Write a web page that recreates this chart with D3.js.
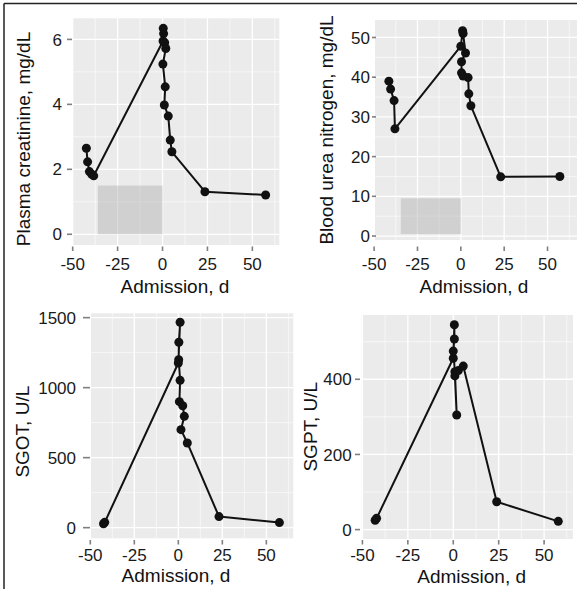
<!DOCTYPE html>
<html>
<head>
<meta charset="utf-8">
<script src="https://cdn.jsdelivr.net/npm/d3@7/dist/d3.min.js"></script>
<style>
  html, body { margin: 0; padding: 0; background: #fff; }
  svg { display: block; font-family: "Liberation Sans", Arial, Helvetica, sans-serif; }
</style>
</head>
<body>
<div id="chart"></div>
<script>
// data (days relative to admission)
const xTicks = [-50, -25, 0, 25, 50],
  xMinor = [-37.5, -12.5, 12.5, 37.5, 62.5],
  xTitle = 'Admission, d';

const creatDays = [-42.4, -41.7, -40.7, -39.4, -38.3, 0.3, 0.4, 0.6, 1.2, 1.8, 0.2, 1.5, 1.0, 3.2, 4.3, 5.2, 23.6, 57.4],
  creatValues = [2.65, 2.23, 1.93, 1.85, 1.8, 5.95, 6.34, 6.18, 5.9, 5.72, 5.24, 4.54, 3.98, 3.64, 2.9, 2.54, 1.31, 1.21],
  creatTicks = [0, 2, 4, 6],
  creatMinor = [1, 3, 5],
  creatNormal = [-36, 0, 0, 1.5];

const bunDays = [-41.5, -40.5, -38.5, -38, 0, 1.0, 1.3, 2.7, 0.4, 0.4, 1.3, 4.2, 4.6, 5.8, 23, 57.1],
  bunValues = [39, 37, 34.1, 27, 47.8, 51.7, 51.0, 46.1, 43.9, 41.1, 40.3, 39.9, 35.8, 32.8, 14.9, 15],
  bunTicks = [0, 10, 20, 30, 40, 50],
  bunMinor = [5, 15, 25, 35, 45],
  bunNormal = [-34.6, 0, 0.5, 9.5];

const sgotDays = [-42.5, -41.8, 0, 1.0, 0.3, 0.2, 1.0, 0.6, 2.5, 3.4, 1.5, 5.1, 23.1, 57.4],
  sgotValues = [28, 38, 1176, 1467, 1324, 1200, 1052, 900, 871, 795, 700, 605, 79, 36],
  sgotTicks = [0, 500, 1000, 1500],
  sgotMinor = [250, 750, 1250];

const sgptDays = [-43, -42.2, 0, 0.6, 0.6, 0, 0.9, 1.9, 0.9, 2.8, 5.5, 23.9, 57.8],
  sgptValues = [25, 30, 456, 545, 507, 475, 420, 305, 409, 423, 435, 74, 22],
  sgptTicks = [0, 200, 400],
  sgptMinor = [100, 300, 500];

// layout of the four panels
const panels = [
  {days: creatDays, values: creatValues, yTicks: creatTicks, yMinor: creatMinor, normal: creatNormal,
    title: 'Plasma creatinine, mg/dL',
    x: [72.7, 279.3], xDom: [-50, 65], y: [245, 18.3], yDom: [-0.33, 6.65],
    tickY: 246.5, labelY: 270, titleX: 175, titleY: 293,
    yTick: [67, 72], yLabelX: 62, yTitleX: 30, yTitleY: 139},
  {days: bunDays, values: bunValues, yTicks: bunTicks, yMinor: bunMinor, normal: bunNormal,
    title: 'Blood urea nitrogen, mg/dL',
    x: [375, 577], xDom: [-49.5, 67], y: [240, 20], yDom: [-1, 54.4],
    tickY: 246.5, labelY: 270, titleX: 474, titleY: 293,
    yTick: [372, 376], yLabelX: 370, yTitleX: 333, yTitleY: 130},
  {days: sgotDays, values: sgotValues, yTicks: sgotTicks, yMinor: sgotMinor,
    title: 'SGOT, U/L',
    x: [90.3, 293.3], xDom: [-50, 65.3], y: [538.3, 313.3], yDom: [-76, 1531],
    tickY: 540, labelY: 561, titleX: 176, titleY: 582,
    yTick: [83, 90], yLabelX: 76, yTitleX: 28.6, yTitleY: 431.7},
  {days: sgptDays, values: sgptValues, yTicks: sgptTicks, yMinor: sgptMinor,
    title: 'SGPT, U/L',
    x: [361.7, 573], xDom: [-50.4, 65.9], y: [539, 315], yDom: [-25, 571],
    tickY: 540, labelY: 561, titleX: 471.7, titleY: 583,
    yTick: [355, 360], yLabelX: 351.7, yTitleX: 317, yTitleY: 426.7}
];

const width = 577, height = 589;

let svg = d3.select('#chart')
  .append('svg')
  .attr('width', width)
  .attr('height', height);

// outer frame (top and left only are visible)
svg.append('line').attr('x1', 4).attr('x2', width).attr('y1', 3.5).attr('y2', 3.5)
  .attr('stroke', '#222').attr('stroke-width', 1.5);
svg.append('line').attr('x1', 4).attr('x2', 4).attr('y1', 3.5).attr('y2', height)
  .attr('stroke', '#222').attr('stroke-width', 1.5);

panels.forEach(function (p) {
  let x = d3.scaleLinear().domain(p.xDom).range(p.x),
    y = d3.scaleLinear().domain(p.yDom).range(p.y),
    g = svg.append('g');

  // panel background
  g.append('rect')
    .attr('x', p.x[0]).attr('y', p.y[1])
    .attr('width', p.x[1] - p.x[0]).attr('height', p.y[0] - p.y[1])
    .attr('fill', '#EBEBEB');

  // minor grid
  g.selectAll('.xminor').data(xMinor.filter(d => d > p.xDom[0] && d < p.xDom[1]))
    .enter().append('line')
    .attr('x1', d => x(d)).attr('x2', d => x(d))
    .attr('y1', p.y[0]).attr('y2', p.y[1])
    .attr('stroke', '#fff').attr('stroke-width', 0.6);
  g.selectAll('.yminor').data(p.yMinor.filter(d => d > p.yDom[0] && d < p.yDom[1]))
    .enter().append('line')
    .attr('x1', p.x[0]).attr('x2', p.x[1])
    .attr('y1', d => y(d)).attr('y2', d => y(d))
    .attr('stroke', '#fff').attr('stroke-width', 0.6);

  // major grid
  g.selectAll('.xmajor').data(xTicks.filter(d => d >= p.xDom[0] && d <= p.xDom[1]))
    .enter().append('line')
    .attr('x1', d => x(d)).attr('x2', d => x(d))
    .attr('y1', p.y[0]).attr('y2', p.y[1])
    .attr('stroke', '#fff').attr('stroke-width', 1.3);
  g.selectAll('.ymajor').data(p.yTicks)
    .enter().append('line')
    .attr('x1', p.x[0]).attr('x2', p.x[1])
    .attr('y1', d => y(d)).attr('y2', d => y(d))
    .attr('stroke', '#fff').attr('stroke-width', 1.3);

  // normal range box
  if (p.normal) {
    g.append('rect')
      .attr('x', x(p.normal[0])).attr('y', y(p.normal[3]))
      .attr('width', x(p.normal[1]) - x(p.normal[0]))
      .attr('height', y(p.normal[2]) - y(p.normal[3]))
      .attr('fill', '#b5b5b5').attr('fill-opacity', 0.5);
  }

  // ticks and tick labels
  g.selectAll('.xtick').data(xTicks)
    .enter().append('line')
    .attr('x1', d => x(d)).attr('x2', d => x(d))
    .attr('y1', p.tickY).attr('y2', p.tickY + 4.5)
    .attr('stroke', '#7f7f7f').attr('stroke-width', 1.6);
  g.selectAll('.xlabel').data(xTicks)
    .enter().append('text')
    .attr('x', d => x(d)).attr('y', p.labelY)
    .attr('text-anchor', 'middle')
    .attr('font-size', 17).attr('fill', '#1a1a1a')
    .text(d => d3.format('')(d).replace('−', '-'));

  g.selectAll('.ytick').data(p.yTicks)
    .enter().append('line')
    .attr('x1', p.yTick[0]).attr('x2', p.yTick[1])
    .attr('y1', d => y(d)).attr('y2', d => y(d))
    .attr('stroke', '#7f7f7f').attr('stroke-width', 1.6);
  g.selectAll('.ylabel').data(p.yTicks)
    .enter().append('text')
    .attr('x', p.yLabelX).attr('y', d => y(d))
    .attr('dy', '0.36em')
    .attr('text-anchor', 'end')
    .attr('font-size', 17).attr('fill', '#1a1a1a')
    .text(d => d);

  // axis titles
  g.append('text')
    .attr('x', p.titleX).attr('y', p.titleY)
    .attr('text-anchor', 'middle')
    .attr('font-size', 19).attr('fill', '#111')
    .text(xTitle);
  g.append('text')
    .attr('transform', 'translate(' + [p.yTitleX, p.yTitleY] + ') rotate(-90)')
    .attr('text-anchor', 'middle')
    .attr('font-size', 19).attr('fill', '#111')
    .text(p.title);

  // series
  let pts = p.days.map((d, i) => [d, p.values[i]]);
  g.append('path')
    .datum(pts)
    .attr('fill', 'none')
    .attr('stroke', '#111')
    .attr('stroke-width', 2)
    .attr('stroke-linejoin', 'round')
    .attr('d', d3.line().x(d => x(d[0])).y(d => y(d[1])));
  g.selectAll('.dot').data(pts)
    .enter().append('circle')
    .attr('cx', d => x(d[0])).attr('cy', d => y(d[1]))
    .attr('r', 4.5)
    .attr('fill', '#111');
});
</script>
</body>
</html>
